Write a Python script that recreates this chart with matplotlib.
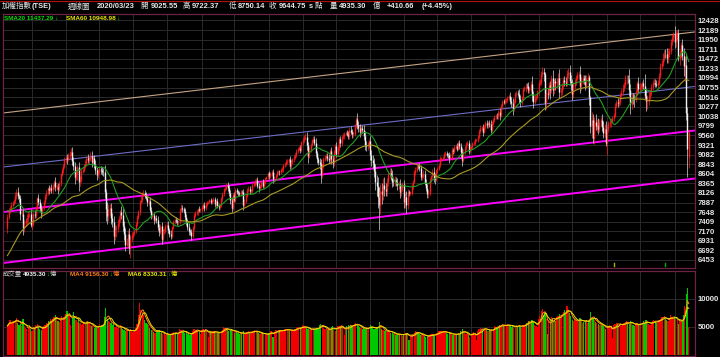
"""TAIEX weekly candlestick chart (加權指數 週線圖) with SMA20/SMA60, regression channel and volume pane."""
import matplotlib
matplotlib.use("Agg")
import matplotlib.pyplot as plt
import numpy as np
import pandas as pd

# ---- data: weekly bars, week of 2010-02-22 .. week of 2020-03-23 (one line per year) ----
# 59 weeks before the first visible bar, only used to seed the moving averages
prior_closes = [
    4700, 4500, 4250, 4248, 4400, 4550, 4450, 4557, 4560, 4600, 5000, 5200, 5210, 5400, 5800, 5600, 5992,
    6300, 6600, 6500, 6890, 6900, 6700, 6500, 6300, 6432, 6500, 6800, 7000, 7077, 7000, 6900, 6600, 6700, 6826,
    7000, 7300, 7500, 7509, 7400, 7600, 7700, 7400, 7400, 7650, 7750, 7600, 7582, 7700, 7800, 7900, 8188,
    8200, 8250, 7900, 7640, 7212, 7290, 7240,
]
closes = [
    7520, 7690, 7760, 7830, 7880, 7920, 8060, 8150, 8040, 8004, 7600, 7610, 7250, 7374, 7440, 7500, 7600, 7600, 7330, 7340, 7600, 7570, 7760, 7990, 7890, 7760, 7620, 7750, 7900, 8050, 8130, 8238, 8200, 8250, 8200, 8287, 8400, 8280, 8280, 8220, 8372, 8600, 8700, 8800, 8973,
    8990, 8980, 9040, 9100, 9145, 8930, 8800, 8520, 8600, 8770, 8390, 8460, 8683, 8700, 8810, 8880, 9007, 8940, 8980, 9050, 8890, 8989, 8830, 8690, 8580, 8653, 8720, 8690, 8650, 8644, 8150, 7720, 7560, 7700, 7741, 7500, 7400, 7050, 7225, 7240, 7370, 7470, 7650, 7587, 7290, 7100, 6830, 6904, 7100, 6750, 6965, 7072,
    7120, 7180, 7350, 7517, 7640, 7900, 7960, 8100, 8121, 8050, 7990, 7890, 7933, 7700, 7550, 7580, 7450, 7501, 7450, 7280, 7150, 7300, 6980, 7170, 7180, 7296, 7330, 7190, 7110, 7050, 7270, 7400, 7450, 7420, 7398, 7400, 7700, 7760, 7715, 7670, 7520, 7400, 7280, 7166, 7150, 7060, 7250, 7580, 7620, 7640, 7720, 7690, 7700,
    7780, 7830, 7750, 7850, 7890, 7900, 7940, 7909, 7940, 7970, 7850, 7919, 7800, 7780, 7820, 7980, 8093, 8220, 8250, 8330, 8254, 8120, 7950, 7760, 8062, 7960, 8200, 8150, 8130, 8107, 8150, 8140, 7830, 7915, 8060, 8190, 8230, 8170, 8174, 8330, 8350, 8410, 8450, 8310, 8240, 8290, 8406, 8310, 8390, 8470, 8520, 8612,
    8540, 8600, 8640, 8462, 8500, 8560, 8640, 8660, 8640, 8700, 8720, 8820, 8849, 8900, 8920, 8960, 8792, 8900, 8960, 9000, 9075, 9180, 9230, 9240, 9200, 9393, 9450, 9500, 9530, 9316, 9050, 9200, 9330, 9436, 9460, 9380, 9110, 8966, 8900, 8840, 8570, 8800, 8974, 9000, 9050, 9000, 8952, 9170, 8970, 8870, 9150, 9307,
    9100, 9240, 9470, 9362, 9520, 9550, 9600, 9622, 9600, 9550, 9700, 9650, 9586, 9600, 9800, 9970, 9820, 9750, 9650, 9750, 9701, 9540, 9330, 9290, 9320, 9410, 9070, 8950, 8870, 8665, 8410, 8300, 8020, 7820, 8175, 8100, 8330, 8230, 8181, 8400, 8590, 8630, 8554, 8400, 8390, 8450, 8400, 8320, 8340, 8140, 8260, 8338,
    7890, 8030, 7820, 8145, 8131, 8135, 8290, 8410, 8640, 8700, 8800, 8790, 8745, 8530, 8560, 8600, 8377, 8250, 8100, 8130, 8460, 8536, 8660, 8500, 8480, 8667, 8730, 8830, 8980, 8984, 9000, 9100, 9110, 9070, 9069, 9000, 9000, 9200, 9167, 9270, 9300, 9230, 9380, 9290, 9140, 8950, 9150, 9240, 9350, 9360, 9180, 9254,
    9270, 9360, 9380, 9448, 9450, 9530, 9680, 9750, 9751, 9650, 9770, 9880, 9812, 9880, 9840, 9700, 9872, 9950, 10010, 10050, 10040, 10150, 10080, 10290, 10400, 10395, 10440, 10450, 10500, 10540, 10430, 10380, 10220, 10400, 10586, 10620, 10600, 10470, 10384, 10500, 10720, 10720, 10800, 10794, 10700, 10700, 10850, 10560, 10400, 10500, 10500, 10643,
    10880, 10900, 11100, 11150, 11104, 10370, 10620, 10600, 10815, 10700, 11000, 10700, 10919, 10860, 10900, 11000, 10650, 10658, 10800, 10950, 10900, 10875, 11100, 11140, 10920, 10837, 10600, 10800, 10890, 11000, 11057, 11090, 10800, 10920, 10986, 10940, 10810, 11000, 11006, 10516, 9806, 9954, 9490, 9906, 9800, 9820, 9730, 9888, 9950, 9760, 9630, 9727, 9382,
    9710, 9860, 9890, 9932, 10000, 10080, 10300, 10389, 10380, 10400, 10570, 10641, 10750, 10830, 10960, 10970, 10967, 10700, 10340, 10500, 10498, 10480, 10640, 10860, 10730, 10780, 10780, 10860, 10800, 10550, 10420, 10420, 10530, 10618, 10780, 10880, 10880, 10850, 10830, 10880, 11050, 11300, 11358, 11500, 11600, 11590, 11489, 11600, 11660, 11900, 12000, 12100,
    11880, 12091, 12118, 11495, 11612, 11815, 11534, 11292, 11321, 10128, 9234, 9644.75,
]
# points above the body top / below the body bottom
upper_wick = [
    80, 60, 40, 70, 50, 60, 90, 80, 120, 60, 70, 90, 110, 80, 60, 90, 70, 50, 120, 60, 40, 90, 50, 40, 110, 80, 90, 60, 40, 50, 60, 30, 80, 60, 90, 50, 40, 120, 70, 90, 50, 30, 60, 40, 50,
    70, 110, 80, 60, 90, 120, 80, 100, 90, 60, 140, 90, 50, 60, 40, 70, 50, 80, 60, 90, 130, 60, 90, 110, 80, 60, 70, 90, 80, 100, 170, 80, 190, 150, 110, 140, 120, 160, 100, 90, 110, 70, 60, 150, 170, 140, 150, 100, 90, 160, 80, 70,
    60, 50, 40, 60, 70, 50, 80, 60, 90, 80, 110, 70, 50, 90, 70, 80, 60, 50, 70, 90, 80, 60, 110, 60, 80, 50, 70, 90, 60, 80, 40, 50, 60, 70, 60, 40, 50, 80, 70, 60, 90, 70, 80, 90, 60, 70, 50, 40, 50, 60, 40, 70, 50,
    50, 40, 60, 50, 40, 30, 40, 50, 40, 50, 60, 40, 70, 50, 40, 50, 60, 40, 60, 50, 80, 60, 90, 70, 50, 80, 50, 60, 40, 50, 40, 60, 90, 50, 40, 50, 60, 70, 40, 50, 40, 60, 40, 80, 70, 50, 40, 60, 40, 50, 40, 30,
    50, 40, 60, 80, 50, 40, 60, 50, 40, 60, 50, 40, 50, 60, 50, 40, 90, 50, 40, 60, 50, 40, 50, 60, 70, 40, 60, 80, 90, 120, 70, 60, 50, 40, 80, 90, 110, 70, 60, 90, 120, 80, 50, 60, 70, 80, 90, 60, 110, 90, 50, 40,
    90, 70, 60, 80, 50, 60, 50, 40, 70, 80, 60, 90, 70, 60, 50, 60, 150, 90, 100, 80, 70, 110, 120, 90, 80, 70, 140, 120, 110, 130, 190, 170, 220, 260, 180, 200, 160, 190, 140, 110, 90, 120, 130, 150, 110, 90, 80, 100, 90, 140, 100, 70,
    120, 110, 150, 90, 60, 40, 70, 50, 60, 70, 60, 50, 80, 70, 60, 90, 110, 100, 90, 80, 50, 40, 60, 120, 90, 50, 40, 50, 60, 40, 50, 40, 60, 70, 40, 80, 110, 60, 50, 40, 50, 60, 40, 70, 80, 110, 60, 50, 40, 50, 90, 40,
    50, 40, 50, 60, 30, 40, 50, 60, 50, 90, 50, 40, 70, 50, 60, 110, 40, 50, 60, 40, 70, 50, 90, 60, 50, 70, 60, 50, 40, 60, 100, 90, 110, 60, 50, 60, 70, 110, 90, 50, 60, 70, 60, 80, 90, 70, 60, 200, 110, 80, 70, 50,
    60, 70, 80, 120, 100, 40, 150, 130, 80, 110, 70, 200, 60, 80, 90, 110, 230, 90, 80, 70, 90, 110, 90, 110, 180, 150, 120, 90, 70, 60, 80, 70, 200, 110, 80, 90, 130, 70, 100, 60, 40, 200, 150, 120, 200, 160, 170, 90, 80, 140, 160, 110, 200,
    120, 60, 80, 70, 50, 40, 70, 60, 110, 80, 60, 70, 90, 60, 100, 90, 110, 260, 150, 120, 110, 90, 70, 60, 160, 90, 100, 70, 120, 300, 160, 150, 110, 80, 60, 70, 110, 90, 100, 60, 70, 60, 80, 120, 90, 110, 160, 130, 80, 70, 80, 50,
    200, 110, 80, 100, 70, 70, 160, 200, 220, 280, 150, 77.62,
]
lower_wick = [
    110, 50, 70, 40, 60, 50, 40, 90, 70, 110, 150, 60, 180, 90, 70, 80, 90, 70, 60, 140, 50, 80, 60, 50, 70, 90, 110, 60, 50, 40, 70, 60, 90, 60, 80, 70, 60, 100, 90, 120, 50, 70, 60, 80, 50,
    90, 120, 60, 70, 50, 110, 90, 180, 80, 140, 210, 90, 70, 60, 50, 60, 80, 70, 90, 60, 120, 50, 80, 90, 120, 70, 60, 80, 70, 90, 160, 300, 220, 140, 120, 160, 130, 190, 110, 210, 90, 80, 70, 110, 120, 140, 160, 90, 100, 140, 250, 60,
    80, 70, 60, 50, 40, 60, 50, 70, 40, 60, 50, 90, 70, 60, 80, 50, 90, 60, 70, 80, 110, 60, 140, 50, 70, 60, 50, 60, 90, 80, 60, 40, 60, 50, 70, 60, 50, 40, 70, 50, 60, 80, 70, 90, 80, 120, 60, 40, 50, 40, 60, 50, 40,
    60, 50, 70, 40, 50, 40, 30, 60, 50, 40, 70, 50, 60, 70, 50, 40, 50, 40, 50, 60, 70, 80, 90, 110, 60, 70, 50, 60, 70, 50, 60, 40, 120, 60, 50, 40, 50, 60, 40, 50, 60, 40, 50, 60, 80, 50, 40, 70, 50, 40, 50, 40,
    60, 50, 40, 90, 70, 50, 40, 50, 60, 40, 50, 60, 40, 50, 60, 40, 80, 70, 50, 60, 40, 50, 60, 40, 90, 50, 60, 70, 50, 110, 180, 60, 50, 40, 50, 70, 90, 100, 80, 120, 200, 70, 60, 50, 60, 70, 80, 90, 120, 130, 60, 50,
    80, 60, 70, 90, 60, 50, 70, 40, 50, 90, 70, 60, 80, 70, 60, 50, 90, 100, 120, 90, 80, 100, 130, 110, 90, 80, 130, 160, 120, 140, 200, 250, 260, 617, 220, 240, 150, 170, 130, 120, 100, 80, 110, 130, 100, 90, 110, 120, 100, 150, 90, 80,
    140, 130, 190, 100, 80, 50, 60, 70, 40, 60, 50, 70, 60, 90, 70, 50, 60, 80, 110, 90, 60, 50, 50, 110, 130, 60, 50, 40, 50, 60, 40, 50, 60, 50, 70, 130, 60, 50, 60, 40, 50, 60, 40, 70, 110, 150, 60, 50, 40, 60, 80, 50,
    60, 50, 40, 50, 30, 50, 40, 50, 60, 110, 40, 50, 60, 60, 70, 90, 50, 40, 60, 50, 80, 60, 130, 50, 40, 60, 50, 60, 50, 40, 90, 100, 160, 50, 40, 50, 60, 100, 110, 60, 50, 60, 70, 60, 80, 90, 60, 150, 150, 60, 80, 40,
    70, 60, 80, 90, 180, 170, 150, 120, 60, 230, 80, 150, 110, 160, 110, 90, 150, 120, 90, 80, 100, 90, 70, 100, 110, 150, 160, 110, 80, 70, 60, 90, 170, 110, 70, 90, 120, 60, 80, 190, 180, 310, 110, 150, 110, 150, 130, 90, 100, 90, 130, 120, 90,
    300, 70, 90, 110, 60, 80, 50, 60, 120, 90, 70, 60, 80, 90, 70, 110, 100, 160, 250, 130, 150, 200, 80, 70, 90, 70, 90, 60, 80, 90, 250, 200, 90, 70, 60, 90, 70, 80, 60, 90, 70, 60, 80, 70, 80, 90, 120, 110, 90, 70, 80, 90,
    150, 120, 140, 80, 180, 120, 90, 250, 380, 180, 711, 275.41,
]
# weekly turnover, 100 million NTD (億)
volumes = [
    5200, 5800, 6200, 5600, 5900, 6100, 6300, 6600, 5800, 5400, 5600, 5200, 6500, 5100, 4800, 4600, 4900, 5200, 4700, 4300, 5000, 4800, 5300, 5600, 5000, 4600, 4500, 4700, 5100, 5400, 5700, 5600, 6100, 6400, 6000, 6500, 6800, 7100, 6500, 6000, 5900, 6500, 6900, 6700, 6600,
    7400, 7900, 7200, 7000, 5400, 6800, 7600, 6900, 6200, 5900, 6500, 5700, 5400, 5600, 5800, 5500, 6000, 6100, 5700, 5300, 5100, 5200, 4900, 5100, 5000, 4800, 5500, 5200, 5300, 5400, 6800, 8400, 6500, 6100, 5900, 5700, 5400, 5800, 5000, 5100, 4800, 4900, 5300, 5000, 4700, 4400, 4300, 4500, 4400, 4200, 4600, 4300,
    4100, 4400, 4900, 5600, 7200, 9300, 8000, 7600, 7100, 6200, 5800, 5500, 5300, 4800, 4500, 4400, 4100, 4000, 4300, 4500, 4400, 3900, 4100, 3800, 3700, 3600, 3800, 3700, 3500, 3600, 3900, 4100, 4000, 3900, 3700, 3800, 4600, 4500, 4200, 4100, 4000, 3900, 3800, 3700, 3600, 3800, 4200, 4600, 4400, 4500, 4300, 4100, 3700,
    4500, 4700, 4300, 4600, 4200, 3300, 4000, 4200, 4300, 4100, 4200, 4000, 3900, 4000, 3900, 4300, 4500, 5000, 4800, 4700, 4400, 4300, 4400, 4700, 4200, 4000, 4300, 4100, 3900, 3800, 3900, 3800, 4200, 3700, 3800, 4100, 4300, 4000, 3900, 4200, 4300, 4400, 4200, 4100, 3900, 3800, 3900, 3800, 3700, 3900, 3600, 3500,
    4000, 4200, 4300, 3200, 4100, 4400, 4500, 4300, 4400, 4300, 4200, 4500, 4600, 4700, 4500, 4400, 4300, 4400, 4500, 4300, 4600, 4900, 5000, 4800, 4700, 4900, 5300, 5100, 4900, 4800, 4700, 4500, 4400, 4600, 4800, 4700, 4600, 4900, 4700, 5300, 5600, 5400, 4800, 4700, 4600, 4500, 4400, 4600, 5000, 5100, 4500, 4300,
    4900, 5100, 5200, 5000, 5300, 5000, 3500, 4900, 5200, 5300, 5000, 5400, 5100, 5300, 5500, 5700, 5400, 5200, 5000, 4800, 4700, 4800, 4700, 4900, 4600, 4900, 5300, 5100, 4800, 4700, 4600, 4900, 5000, 5950, 5200, 4600, 4400, 4300, 4200, 4100, 4400, 4300, 4000, 3900, 3700, 3800, 3600, 3700, 3800, 3700, 3600, 3400,
    3800, 3900, 4000, 3700, 2600, 3400, 3600, 3800, 4000, 4200, 4100, 3900, 3700, 3600, 3500, 3700, 3400, 3300, 3400, 3200, 3600, 3800, 3700, 3500, 3400, 3900, 4000, 4300, 4200, 4100, 4000, 4200, 4300, 3900, 3800, 3900, 3700, 3800, 3600, 3700, 3600, 3800, 3900, 3700, 4300, 4600, 4100, 3900, 3800, 3700, 3500, 3300,
    3800, 4000, 4100, 3600, 2700, 4300, 4600, 4800, 4500, 4700, 4600, 4800, 4500, 4300, 4400, 4200, 4600, 4700, 5200, 5000, 4800, 5100, 5300, 5400, 5600, 5200, 5100, 5300, 5500, 5400, 5200, 5000, 5300, 4800, 5100, 5300, 5200, 5400, 5000, 4900, 5300, 5400, 5600, 5800, 6100, 6000, 5700, 6200, 5900, 5400, 5200, 5000,
    6500, 7000, 7800, 8300, 7200, 7600, 6500, 3800, 6200, 6400, 6800, 6600, 6300, 6100, 6700, 6900, 7400, 6800, 7200, 7600, 8000, 7300, 8800, 7900, 7500, 6900, 6200, 6000, 6400, 6300, 6100, 6000, 6600, 6200, 5800, 5900, 6100, 6300, 5700, 6200, 7600, 6700, 6500, 6300, 5900, 5800, 5600, 5400, 5600, 5300, 5100, 4900, 4700,
    5000, 5200, 5300, 5100, 3000, 5400, 5600, 5700, 5500, 5300, 5600, 5200, 5400, 5800, 5900, 6000, 5600, 5500, 6100, 5800, 5400, 5200, 5300, 5700, 5400, 5600, 5500, 5800, 6000, 5600, 6200, 5900, 5500, 5400, 5700, 6000, 6300, 6100, 5800, 5900, 6300, 6500, 6800, 6700, 6900, 6400, 6200, 6100, 6600, 7200, 6800, 6400,
    6800, 6500, 6200, 5600, 6300, 6100, 6257, 7100, 8790, 10900, 12000, 4935.30,
]

hdr_open, hdr_high, hdr_low, hdr_close = 9025.55, 9722.37, 8750.14, 9644.75
hdr_vol, hdr_chg, hdr_pct = 4935.30, 410.66, 4.45
sma20_last, sma60_last = 11437.29, 10948.98
vol_ma4_last, vol_ma6_last = 9156.30, 8330.31

price_ticks = [12428, 12189, 11950, 11711, 11472, 11233, 10994, 10755, 10516, 10277, 10038, 9799, 9560,
               9321, 9082, 8843, 8604, 8365, 8126, 7887, 7648, 7409, 7170, 6931, 6692, 6453]
vol_ticks = [5000, 10000]
grid_bars = [19, 45, 71, 97, 123, 150, 175, 202, 228, 254, 280, 306, 332, 358, 384, 410, 436, 463, 488, 515]
# regression channel lines: value at the first bar and at the last bar
channel_start = [10133, 8785, 7662, 6390]
channel_end = [12124, 10764, 9666, 8467]
channel_colors = ["#c4a484", "#6c6cc8", "#ff00ff", "#ff00ff"]
channel_widths = [0.8, 0.8, 1.4, 1.4]
event_bars = [468, 508]
event_colors = ["#b0b000", "#00b000"]

n = len(closes)
assert len(upper_wick) == n and len(lower_wick) == n and len(volumes) == n, (n, len(upper_wick), len(lower_wick), len(volumes))
assert len(prior_closes) == 59

W, H = 720, 357
FAM = ["Liberation Sans", "Noto Sans CJK TC", "DejaVu Sans"]
C_UP, C_DN = "#ff1a1a", "#f2f2f2"
C_VUP, C_VDN = "#f00000", "#00c800"
C_GRID = "#2a2a2a"
C_BORDER = "#6e2245"

closes_a = np.array(closes, dtype=float)
opens = np.r_[prior_closes[-1], closes_a[:-1]]
opens[-1] = hdr_open
highs = np.maximum(opens, closes_a) + np.array(upper_wick, dtype=float)
lows = np.minimum(opens, closes_a) - np.array(lower_wick, dtype=float)
highs[-1], lows[-1] = hdr_high, hdr_low
up = closes_a >= opens

full = pd.Series(list(prior_closes) + list(closes_a))
sma20 = full.rolling(20).mean().to_numpy()[-n:]
sma60 = full.rolling(60).mean().to_numpy()[-n:]
vol = pd.Series(volumes, dtype=float)
vma4 = vol.rolling(4, min_periods=1).mean()
vma6 = vol.rolling(6, min_periods=1).mean()

fig = plt.figure(figsize=(W / 100, H / 100), dpi=100, facecolor="black")


def px_axes(x0, y0, x1, y1):
    a = fig.add_axes([x0 / W, 1 - y1 / H, (x1 - x0) / W, (y1 - y0) / H])
    a.set_facecolor("black")
    return a


ax = px_axes(3, 14, 695, 268)
axv = px_axes(3, 271, 695, 356)
x = np.arange(n)
XL = (-3.40, 530.8)

# --- price pane ---
ax.set_xlim(*XL)
ax.set_ylim(6253, 12590)
for i, (v0, v1) in enumerate(zip(channel_start, channel_end)):
    ax.axline((0, v0), (n - 1, v1), color=channel_colors[i], lw=channel_widths[i], zorder=2)
ax.vlines(x, lows, highs, colors=np.where(up, C_UP, "#d8d8d8"), lw=0.5, zorder=3)
body_lo = np.minimum(opens, closes_a)
body_hi = np.maximum(np.maximum(opens, closes_a), body_lo + 12)
ax.vlines(x, body_lo, body_hi, colors=np.where(up, C_UP, C_DN), lw=1.0, zorder=3)
ax.plot(x, sma20, color="#1fa01f", lw=0.8, zorder=4)
ax.plot(x, sma60, color="#a89a22", lw=0.8, zorder=4)
for b, c in zip(event_bars, event_colors):
    ax.plot([b, b], [6300, 6390], color=c, lw=1.0, zorder=4)

# --- volume pane ---
axv.set_xlim(*XL)
axv.set_ylim(-179, 15000)
axv.bar(x, volumes, width=0.9, color=np.where(up, C_VUP, C_VDN), linewidth=0, zorder=3)
axv.plot(x, vma4, color="#ff8c1a", lw=0.7, zorder=4)
axv.plot(x, vma6, color="#e8e000", lw=0.7, zorder=4)

for a, ticks in ((ax, price_ticks), (axv, vol_ticks)):
    a.set_xticks(grid_bars)
    a.set_yticks(ticks)
    a.yaxis.tick_right()
    a.tick_params(axis="x", length=0, labelbottom=False)
    a.tick_params(axis="y", length=0, pad=2, labelsize=5.6, labelcolor="#e6e6e6")
    for lab in a.get_yticklabels():
        lab.set_family(FAM)
        lab.set_fontweight("bold")
    a.grid(True, color=C_GRID, lw=0.7, zorder=0)
    for s in a.spines.values():
        s.set_color(C_BORDER)
        s.set_linewidth(0.9)
axv.set_yticklabels([str(t) for t in vol_ticks])

# --- texts ---
renderer = fig.canvas.get_renderer()


def weight_for(s):
    # CJK glyphs stay regular, latin text is bold like the original
    return "normal" if any(ord(ch) > 0x2e80 for ch in s) else "bold"


def run_text(x0, y0, pieces, size, gap=0.5):
    for s, c in pieces:
        t = fig.text(x0 / W, 1 - y0 / H, s, color=c, fontsize=size, fontweight=weight_for(s),
                     family=FAM, va="center", ha="left")
        x0 = t.get_window_extent(renderer=renderer).x1 + gap


HDR = "#e8e8e8"
run_text(2, 6.5, [("加權指數", HDR), ("(TSE)", HDR)], 5.4, gap=0.0)
header = [
    (68, "週線圖"), (97, "2020/03/23"),
    (140, "開"), (151, f"{hdr_open:.2f}"), (183, "高"), (192, f"{hdr_high:.2f}"),
    (229, "低"), (238, f"{hdr_low:.2f}"), (269, "收"), (279, f"{hdr_close:.2f}"),
    (309, "s"), (315, "點"), (330, "量"), (339, f"{hdr_vol:.2f}"), (373, "億"),
    (387, f"+{hdr_chg:.2f}"), (422, f"(+{hdr_pct:.2f}%)"),
]
for hx, s in header:
    fig.text(hx / W, 1 - 6.5 / H, s, color=HDR, fontsize=5.4, fontweight=weight_for(s),
             family=FAM, va="center", ha="left")
fig.add_artist(plt.Line2D([0, 1], [1 - 0.5 / H, 1 - 0.5 / H], color="#b01010", lw=0.8))

run_text(4, 18.5, [(f"SMA20 {sma20_last:.2f}", "#00e000"), ("↓", "#00e000")], 4.6)
run_text(66, 18.5, [(f"SMA60 {sma60_last:.2f}", "#e8e800"), ("↓", "#00e000")], 4.6)
run_text(3, 274.5, [("成交量", "#c8c8c8"), (f"{hdr_vol:.2f}", "#f0f0f0"), ("↓", "#00e000"), ("億", "#c8c8c8")], 4.6)
run_text(70, 274.5, [(f"MA4 {vol_ma4_last:.2f}", "#ff7f1a"), ("↓", "#00e000"), ("億", "#ff7f1a")], 4.6)
run_text(128, 274.5, [(f"MA6 {vol_ma6_last:.2f}", "#e8e800"), ("↓", "#00e000"), ("億", "#e8e800")], 4.6)

fig.savefig("out.png", dpi=100, facecolor="black")
